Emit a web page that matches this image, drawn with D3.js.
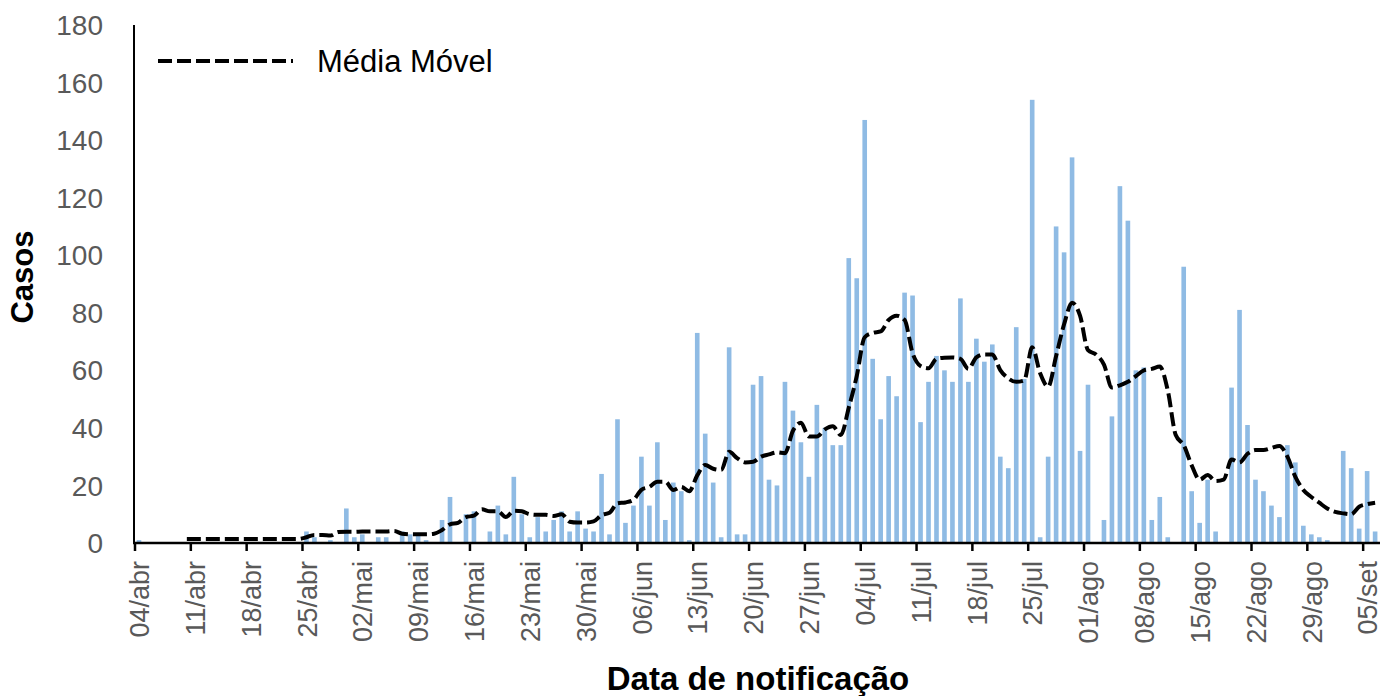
<!DOCTYPE html>
<html>
<head>
<meta charset="utf-8">
<script src="https://cdn.jsdelivr.net/npm/d3@7"></script>
<style>
  html, body { margin: 0; padding: 0; background: #fff; }
  svg { display: block; font-family: "Liberation Sans", Arial, sans-serif; }
</style>
</head>
<body>
<svg id="chart" width="1380" height="696"></svg>
<script>
const monthNames = ["jan", "fev", "mar", "abr", "mai", "jun", "jul", "ago", "set", "out", "nov", "dez"]

// one category per day, 04/abr .. 06/set
const days = d3.timeDay.range(new Date(2020, 3, 4), new Date(2020, 8, 7))
const categories = days.map(d => d3.timeFormat("%d")(d) + "/" + monthNames[d.getMonth()])

const tickLabels = [
  "04/abr", "11/abr", "18/abr", "25/abr", "02/mai", "09/mai", "16/mai", "23/mai",
  "30/mai", "06/jun", "13/jun", "20/jun", "27/jun", "04/jul", "11/jul", "18/jul",
  "25/jul", "01/ago", "08/ago", "15/ago", "22/ago", "29/ago", "05/set"
]

const yTicks = [0, 20, 40, 60, 80, 100, 120, 140, 160, 180]

// daily cases
const cases = [
  1, 0, 0, 0, 0, 0, 0, 0, 0, 0, 0, 0, 0, 0, 0, 0, 0, 0, 0, 0,
  0, 4, 2, 0, 1, 0, 12, 2, 3, 0, 2, 2, 0, 4, 3, 3, 1, 0, 8, 16,
  0, 10, 11, 0, 4, 13, 3, 23, 10, 2, 9, 4, 8, 11, 4, 11, 5, 4, 24, 3,
  43, 7, 13, 30, 13, 35, 8, 21, 18, 1, 73, 38, 21, 2, 68, 3, 3, 55, 58, 22,
  20, 56, 46, 35, 23, 48, 40, 34, 34, 99, 92, 147, 64, 43, 58, 51, 87, 86, 42, 56,
  65, 60, 56, 85, 56, 71, 63, 69, 30, 26, 75, 57, 154, 2, 30, 110, 101, 134, 32, 55,
  0, 8, 44, 124, 112, 60, 61, 8, 16, 2, 0, 96, 18, 7, 22, 4, 0, 54, 81, 41,
  22, 18, 13, 9, 34, 28, 6, 3, 2, 1, 0, 32, 26, 5, 25, 4
]

// moving average (null where it is not drawn)
const movingAvg = [
  null, null, null, null, null, null, 1.4, 1.4, 1.4, 1.4, 1.4, 1.4, 1.4, 1.4, 1.4, 1.4, 1.4, 1.4, 1.4, 1.4,
  1.4, 2.0, 2.8, 2.8, 2.6, 3.8, 3.9, 3.9, 4.0, 4.0, 4.0, 4.0, 4.2, 3.2, 3.0, 3.0, 3.0, 3.2, 4.5, 6.5,
  7.0, 9.0, 9.5, 11.7, 11.0, 11.0, 9.0, 11.2, 11.0, 10.0, 9.8, 9.8, 9.4, 10.0, 7.4, 7.1, 7.1, 7.5, 9.7, 10.5,
  13.8, 14.1, 15.0, 18.5, 19.5, 21.3, 21.3, 18.4, 19.5, 18.0, 23.5, 27.1, 25.8, 25.4, 31.7, 29.5, 28.0, 28.2, 30.0, 30.8,
  31.5, 31.2, 39.0, 41.8, 37.0, 37.0, 39.5, 40.6, 37.5, 47.0, 58.0, 71.5, 73.0, 73.5, 77.5, 79.0, 77.5, 66.0, 61.5, 60.7,
  64.0, 64.4, 64.5, 64.0, 60.5, 64.5, 65.5, 65.5, 60.1, 57.2, 56.0, 56.5, 68.0, 59.0, 54.3, 65.0, 76.0, 83.5, 79.0, 67.0,
  65.5, 62.0, 54.0, 54.8, 56.0, 58.0, 60.0, 60.5, 61.3, 53.0, 37.5, 34.0, 27.0, 22.0, 23.6, 21.5, 22.0, 29.0, 28.0, 31.0,
  32.3, 32.3, 33.0, 33.7, 30.0, 23.0, 18.4, 16.0, 14.0, 12.0, 10.8, 10.3, 10.0, 12.6, 13.5, 14.0
]

const margin = { left: 135, right: 0, top: 25, bottom: 153 }
const width = 1380
const height = 696

const svg = d3.select("#chart")

const x = d3.scaleBand()
  .domain(categories)
  .range([margin.left, margin.left + categories.length * 7.975])
  .paddingInner(0.42)
  .paddingOuter(0.21)

const y = d3.scaleLinear()
  .domain([0, 180])
  .range([height - margin.bottom, margin.top])

const step = x.step()
const bandStart = c => margin.left + categories.indexOf(c) * step
const bandCenter = c => bandStart(c) + step / 2

// bars
svg.append("g")
  .selectAll("rect")
  .data(categories.map((c, i) => ({ c, v: cases[i] })))
  .join("rect")
  .attr("x", d => x(d.c))
  .attr("width", x.bandwidth())
  .attr("y", d => y(d.v))
  .attr("height", d => y(0) - y(d.v))
  .attr("fill", "#8fbbe4")

// y axis: labels only, plus the line
svg.append("g")
  .selectAll("text")
  .data(yTicks)
  .join("text")
  .attr("x", 103)
  .attr("y", d => y(d))
  .attr("dy", "0.36em")
  .attr("text-anchor", "end")
  .attr("fill", "#595959")
  .attr("font-size", 28)
  .text(d => d)

svg.append("line")
  .attr("x1", margin.left - 1).attr("x2", margin.left - 1)
  .attr("y1", y(180)).attr("y2", y(0))
  .attr("stroke", "#000")
  .attr("stroke-width", 2)

// x axis line and weekly ticks
svg.append("line")
  .attr("x1", margin.left - 2).attr("x2", width)
  .attr("y1", y(0)).attr("y2", y(0))
  .attr("stroke", "#000")
  .attr("stroke-width", 2.5)

const xTicks = svg.append("g")
xTicks.selectAll("line")
  .data(tickLabels)
  .join("line")
  .attr("x1", d => bandStart(d)).attr("x2", d => bandStart(d))
  .attr("y1", y(0)).attr("y2", y(0) + 8)
  .attr("stroke", "#000")
  .attr("stroke-width", 2.5)

xTicks.selectAll("text")
  .data(tickLabels)
  .join("text")
  .attr("transform", d => `translate(${bandCenter(d) + 1}, 561) rotate(-90)`)
  .attr("dy", "0.34em")
  .attr("text-anchor", "end")
  .attr("fill", "#595959")
  .attr("font-size", 27)
  .text(d => d)

// moving average
const line = d3.line()
  .defined(d => d.v !== null)
  .x(d => bandCenter(d.c))
  .y(d => y(d.v))
  .curve(d3.curveMonotoneX)

svg.append("path")
  .datum(categories.map((c, i) => ({ c, v: movingAvg[i] })))
  .attr("d", line)
  .attr("fill", "none")
  .attr("stroke", "#000")
  .attr("stroke-width", 4)
  .attr("stroke-dasharray", "14,5")

// legend
svg.append("line")
  .attr("x1", 158).attr("x2", 293)
  .attr("y1", 61).attr("y2", 61)
  .attr("stroke", "#000")
  .attr("stroke-width", 4)
  .attr("stroke-dasharray", "14,5")

svg.append("text")
  .attr("x", 317)
  .attr("y", 72)
  .attr("font-size", 31)
  .attr("fill", "#000")
  .text("Média Móvel")

// axis titles
svg.append("text")
  .attr("transform", "translate(33, 277) rotate(-90)")
  .attr("text-anchor", "middle")
  .attr("font-size", 31)
  .attr("font-weight", "bold")
  .text("Casos")

svg.append("text")
  .attr("x", 758)
  .attr("y", 690)
  .attr("text-anchor", "middle")
  .attr("font-size", 33)
  .attr("font-weight", "bold")
  .text("Data de notificação")
</script>
</body>
</html>
